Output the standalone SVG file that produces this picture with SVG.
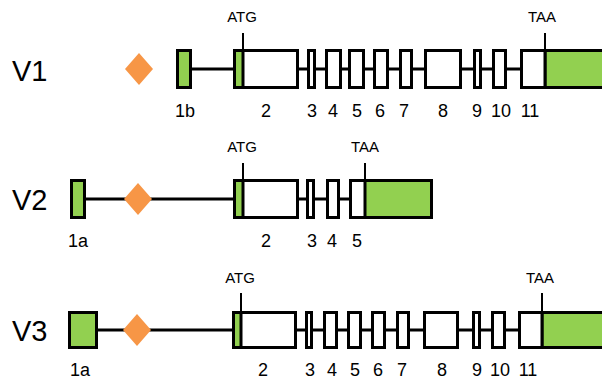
<svg xmlns="http://www.w3.org/2000/svg" width="602" height="379" viewBox="0 0 602 379">
<style>
.ex{fill:#fff;stroke:#000;stroke-width:3}
.utr{fill:#92D050;stroke:#000;stroke-width:3}
.fill{fill:#92D050;stroke:none}
.ln{stroke:#000;stroke-width:3;fill:none}
.tick{stroke:#000;stroke-width:2;fill:none}
.dia{fill:#F79646;stroke:none}
.v{font-family:"Liberation Sans",Arial,sans-serif;font-size:29px;fill:#000}
.lb{font-family:"Liberation Sans",Arial,sans-serif;font-size:18px;fill:#000;text-anchor:middle}
.cd{font-family:"Liberation Sans",Arial,sans-serif;font-size:15px;fill:#000;text-anchor:middle}
</style>
<rect width="602" height="379" fill="#fff"/>
<g id="connectors">
<line class="ln" x1="192" y1="69" x2="545" y2="69"/>
<line class="ln" x1="86" y1="199" x2="365" y2="199"/>
<line class="ln" x1="98" y1="330" x2="542" y2="330"/>
<line class="tick" x1="243" y1="33" x2="243" y2="50"/>
<line class="tick" x1="545" y1="33" x2="545" y2="50"/>
<line class="tick" x1="243" y1="163" x2="243" y2="180"/>
<line class="tick" x1="365" y1="163" x2="365" y2="180"/>
<line class="tick" x1="241" y1="293" x2="241" y2="312"/>
<line class="tick" x1="542" y1="293" x2="542" y2="312"/>
</g>
<g id="V1">
<text class="v" x="12" y="81">V1</text>
<g id="v1-promoter"><polygon class="dia" points="139,53 153,69 139,85 125,69"/></g>
<g id="v1-e1b"><rect class="utr" x="177.5" y="50.5" width="13" height="37"/></g>
<g id="v1-e2"><rect class="ex" x="234.5" y="50.5" width="63" height="37"/><rect class="fill" x="236" y="52" width="7" height="34"/><line class="ln" x1="243" y1="50.5" x2="243" y2="87.5"/></g>
<g id="v1-e3"><rect class="ex" x="308.5" y="50.5" width="6" height="37"/></g>
<g id="v1-e4"><rect class="ex" x="326.5" y="50.5" width="14" height="37"/></g>
<g id="v1-e5"><rect class="ex" x="349.5" y="50.5" width="14" height="37"/></g>
<g id="v1-e6"><rect class="ex" x="374.5" y="50.5" width="13" height="37"/></g>
<g id="v1-e7"><rect class="ex" x="400.5" y="50.5" width="11" height="37"/></g>
<g id="v1-e8"><rect class="ex" x="425.5" y="50.5" width="35" height="37"/></g>
<g id="v1-e9"><rect class="ex" x="474.5" y="50.5" width="6" height="37"/></g>
<g id="v1-e10"><rect class="ex" x="493.5" y="50.5" width="12" height="37"/></g>
<g id="v1-e11"><rect class="utr" x="545" y="50.5" width="70" height="37"/><rect class="ex" x="521.5" y="50.5" width="23.5" height="37"/></g>
<text class="cd" x="242" y="22">ATG</text>
<text class="cd" x="542" y="22">TAA</text>
<text class="lb" x="185" y="117">1b</text>
<text class="lb" x="266" y="117">2</text>
<text class="lb" x="312" y="117">3</text>
<text class="lb" x="333" y="117">4</text>
<text class="lb" x="357" y="117">5</text>
<text class="lb" x="380" y="117">6</text>
<text class="lb" x="404" y="117">7</text>
<text class="lb" x="443" y="117">8</text>
<text class="lb" x="477" y="117">9</text>
<text class="lb" x="501" y="117">10</text>
<text class="lb" x="530" y="117">11</text>
</g>
<g id="V2">
<text class="v" x="12" y="210">V2</text>
<g id="v2-e1a"><rect class="utr" x="71.5" y="180.5" width="13" height="37"/></g>
<g id="v2-promoter"><polygon class="dia" points="138,183 152,199 138,215 124,199"/></g>
<g id="v2-e2"><rect class="ex" x="234.5" y="180.5" width="63" height="37"/><rect class="fill" x="236" y="182" width="7" height="34"/><line class="ln" x1="243" y1="180.5" x2="243" y2="217.5"/></g>
<g id="v2-e3"><rect class="ex" x="307.5" y="180.5" width="6" height="37"/></g>
<g id="v2-e4"><rect class="ex" x="327.5" y="180.5" width="11" height="37"/></g>
<g id="v2-e5"><rect class="utr" x="350.5" y="180.5" width="81" height="37"/><rect x="352" y="182" width="13" height="34" fill="#fff"/><line class="ln" x1="365" y1="180.5" x2="365" y2="217.5"/></g>
<text class="cd" x="242" y="152">ATG</text>
<text class="cd" x="365" y="152">TAA</text>
<text class="lb" x="78" y="247">1a</text>
<text class="lb" x="266" y="247">2</text>
<text class="lb" x="312" y="247">3</text>
<text class="lb" x="332" y="247">4</text>
<text class="lb" x="357" y="247">5</text>
</g>
<g id="V3">
<text class="v" x="12" y="341">V3</text>
<g id="v3-e1a"><rect class="utr" x="69.5" y="312.5" width="27" height="35"/></g>
<g id="v3-promoter"><polygon class="dia" points="137,314 151,330 137,346 123,330"/></g>
<g id="v3-e2"><rect class="ex" x="233.5" y="312.5" width="62" height="35"/><rect class="fill" x="235" y="314" width="6" height="32"/><line class="ln" x1="241" y1="312.5" x2="241" y2="347.5"/></g>
<g id="v3-e3"><rect class="ex" x="306.5" y="312.5" width="5" height="35"/></g>
<g id="v3-e4"><rect class="ex" x="324.5" y="312.5" width="12" height="35"/></g>
<g id="v3-e5"><rect class="ex" x="348.5" y="312.5" width="12" height="35"/></g>
<g id="v3-e6"><rect class="ex" x="372.5" y="312.5" width="12" height="35"/></g>
<g id="v3-e7"><rect class="ex" x="397.5" y="312.5" width="11" height="35"/></g>
<g id="v3-e8"><rect class="ex" x="424.5" y="312.5" width="33" height="35"/></g>
<g id="v3-e9"><rect class="ex" x="473.5" y="312.5" width="6" height="35"/></g>
<g id="v3-e10"><rect class="ex" x="492.5" y="312.5" width="12" height="35"/></g>
<g id="v3-e11"><rect class="utr" x="542" y="312.5" width="70" height="35"/><rect class="ex" x="519.5" y="312.5" width="22.5" height="35"/></g>
<text class="cd" x="240" y="283">ATG</text>
<text class="cd" x="540" y="283">TAA</text>
<text class="lb" x="80" y="376">1a</text>
<text class="lb" x="263" y="376">2</text>
<text class="lb" x="310" y="376">3</text>
<text class="lb" x="332" y="376">4</text>
<text class="lb" x="355" y="376">5</text>
<text class="lb" x="378" y="376">6</text>
<text class="lb" x="402" y="376">7</text>
<text class="lb" x="442" y="376">8</text>
<text class="lb" x="477" y="376">9</text>
<text class="lb" x="500" y="376">10</text>
<text class="lb" x="528" y="376">11</text>
</g>
</svg>
